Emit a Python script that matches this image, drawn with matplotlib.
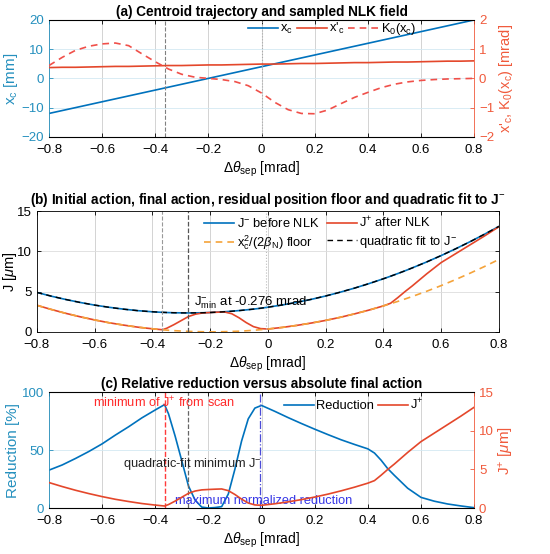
import numpy as np
import matplotlib
matplotlib.use('Agg')
import matplotlib.pyplot as plt

plt.rcParams['font.family'] = ['Liberation Sans', 'DejaVu Sans']
plt.rcParams['mathtext.fontset'] = 'custom'
plt.rcParams['mathtext.rm'] = 'Liberation Sans'
plt.rcParams['mathtext.it'] = 'Liberation Sans:italic'
plt.rcParams['mathtext.bf'] = 'Liberation Sans:bold'

# panel (a) data: centroid and sampled kicker field
theta_a = [-0.8, -0.75, -0.7, -0.65, -0.6, -0.55, -0.5, -0.45, -0.4, -0.35, -0.3,
           -0.25, -0.2, -0.15, -0.1, -0.05, 0.0, 0.05, 0.1, 0.15, 0.2, 0.25, 0.3,
           0.35, 0.4, 0.45, 0.5, 0.55, 0.6, 0.65, 0.7, 0.75, 0.8]
x_c = [-12, -11, -10, -9, -8, -7, -6, -5, -4, -3, -2, -1, 0, 1, 2, 3, 4, 5, 6,
       7, 8, 9, 10, 11, 12, 13, 14, 15, 16, 17, 18, 19, 20]
xp_c = [0.37, 0.38, 0.38, 0.39, 0.40, 0.41, 0.41, 0.42, 0.43, 0.44, 0.44, 0.45,
        0.46, 0.46, 0.47, 0.48, 0.49, 0.49, 0.50, 0.51, 0.51, 0.52, 0.53, 0.54,
        0.54, 0.55, 0.56, 0.56, 0.57, 0.58, 0.59, 0.59, 0.60]
K0 = [0.44, 0.72, 0.96, 1.10, 1.18, 1.21, 1.12, 0.84, 0.57, 0.32, 0.14, 0.04,
      0.00, -0.04, -0.11, -0.25, -0.50, -0.82, -1.07, -1.20, -1.21, -1.08, -0.86,
      -0.65, -0.48, -0.32, -0.20, -0.12, -0.07, -0.04, -0.02, -0.01, 0.00]

# panels (b) and (c) data: actions and reduction
theta = [-0.8, -0.75, -0.7, -0.65, -0.6, -0.55, -0.5, -0.45, -0.4, -0.365, -0.35,
         -0.325, -0.3, -0.275, -0.25, -0.225, -0.2, -0.175, -0.15, -0.125, -0.1,
         -0.075, -0.05, -0.025, 0.0, 0.05, 0.1, 0.15, 0.2, 0.25, 0.3, 0.35, 0.4,
         0.425, 0.45, 0.475, 0.5, 0.55, 0.6, 0.65, 0.7, 0.75, 0.8]
J_minus = [4.90, 4.43, 4.02, 3.65, 3.32, 3.05, 2.82, 2.63, 2.49, 2.42, 2.40, 2.37,
           2.36, 2.35, 2.36, 2.37, 2.40, 2.45, 2.50, 2.56, 2.64, 2.73, 2.82, 2.93,
           3.06, 3.34, 3.66, 4.03, 4.45, 4.92, 5.43, 5.99, 6.59, 6.91, 7.24, 7.58,
           7.94, 8.68, 9.47, 10.31, 11.19, 12.12, 13.09]
J_plus = [3.30, 2.78, 2.30, 1.87, 1.48, 1.13, 0.84, 0.58, 0.38, 0.26, 0.45, 0.90,
          1.40, 1.90, 2.20, 2.35, 2.40, 2.44, 2.47, 2.25, 1.75, 1.15, 0.65, 0.40,
          0.35, 0.55, 0.80, 1.09, 1.42, 1.80, 2.23, 2.70, 3.22, 3.55, 4.25, 5.00,
          5.70, 7.20, 8.60, 9.70, 10.80, 11.90, 13.05]
J_floor = [3.30, 2.78, 2.30, 1.87, 1.48, 1.13, 0.84, 0.58, 0.38, 0.26, 0.21, 0.15,
           0.10, 0.06, 0.03, 0.01, 0.00, 0.00, 0.02, 0.05, 0.08, 0.13, 0.19, 0.27,
           0.35, 0.55, 0.80, 1.09, 1.42, 1.80, 2.23, 2.70, 3.22, 3.50, 3.78, 4.08,
           4.39, 5.04, 5.74, 6.49, 7.28, 8.11, 8.99]
reduction = [32.7, 37.2, 42.8, 48.8, 55.4, 63.0, 70.2, 77.9, 84.7, 89.3, 81.3, 62.0,
             40.7, 19.1, 6.8, 0.8, 0.0, 0.4, 1.2, 12.1, 33.7, 57.9, 77.0, 86.3,
             88.6, 83.5, 78.1, 73.0, 68.1, 63.4, 58.9, 54.9, 51.1, 47.5, 41.3, 34.0,
             28.2, 17.1, 9.2, 5.9, 3.5, 1.8, 0.3]

theta_jplus_min = -0.365
theta_fit_min = -0.276
theta_red_max = -0.005

blue = '#0072BD'
blue_ax = '#2590BE'
red = '#E4472B'
red_k = '#F0504A'
red_ax = '#F05A3C'
yellow = '#F5A33A'
xticks = [-0.8, -0.6, -0.4, -0.2, 0, 0.2, 0.4, 0.6, 0.8]
xlab = r'$\Delta\theta_{\rm sep}$ [mrad]'
fs = 9.5
tfs = 9.8
lfs = 9.3


def style(ax):
    ax.set_xlim(-0.8, 0.8)
    ax.set_xticks(xticks)
    ax.set_xticklabels(['\u22120.8', '\u22120.6', '\u22120.4', '\u22120.2', '0',
                        '0.2', '0.4', '0.6', '0.8'])
    ax.tick_params(direction='in', length=3, width=0.6, labelsize=fs, top=True)
    ax.tick_params(axis='x', pad=5)
    for s in ax.spines.values():
        s.set_linewidth(0.6)
    ax.xaxis.grid(True, color='#cccccc', lw=0.6)
    ax.set_axisbelow(True)
    ax.set_xlabel(xlab, fontsize=fs + 0.5, labelpad=3)


fig = plt.figure(figsize=(5.5, 5.54), dpi=100)

# (a)
ax = fig.add_axes([0.089, 0.753, 0.773, 0.211])
style(ax)
ax.yaxis.grid(True, color='#d3e9f3', lw=0.6)
axr = ax.twinx()
la, = ax.plot(theta_a, x_c, color=blue, lw=1.2, label=r'x$_\mathrm{c}$')
lb, = axr.plot(theta_a, xp_c, color=red, lw=1.2, label=r"x'$_\mathrm{c}$")
lc, = axr.plot(theta_a, K0, color=red_k, lw=1.2, ls='--', dashes=(4, 3),
               label=r'K$_0$(x$_\mathrm{c}$)')
ax.axvline(theta_jplus_min, color='#808080', ls='--', lw=0.8)
ax.axvline(0, color='#aaaaaa', ls=':', lw=0.8)
ax.set_ylim(-20, 20)
ax.set_yticks([-20, -10, 0, 10, 20])
axr.set_ylim(-2, 2)
axr.set_yticks([-2, -1, 0, 1, 2])
ax.tick_params(axis='y', colors=blue_ax, right=False)
axr.tick_params(axis='y', colors=red_ax, direction='in', length=3, width=0.6, labelsize=fs)
ax.spines['left'].set_color(blue_ax)
ax.spines['right'].set_visible(False)
axr.spines['left'].set_visible(False)
axr.spines['right'].set_color(red_ax)
axr.spines['right'].set_linewidth(0.6)
ax.set_ylabel(r'x$_\mathrm{c}$ [mm]', color=blue_ax, fontsize=fs + 1.5, labelpad=1)
axr.set_ylabel(r"x'$_\mathrm{c}$, K$_0$(x$_\mathrm{c}$) [mrad]", color=red_ax,
               fontsize=fs + 1, labelpad=2)
ax.set_title('(a) Centroid trajectory and sampled NLK field', fontweight='bold',
             fontsize=tfs, pad=3)
axr.legend(handles=[la, lb, lc], loc='upper left', bbox_to_anchor=(0.465, 1.0),
           ncol=3, frameon=False, fontsize=lfs, handlelength=2.3, handletextpad=0.2,
           columnspacing=0.3, borderpad=0.1, borderaxespad=0)

# (b)
ax = fig.add_axes([0.067, 0.401, 0.840, 0.218])
style(ax)
ax.yaxis.grid(True, color='#dddddd', lw=0.6)
ax.tick_params(right=True)
coef = np.polyfit(theta, J_minus, 2)
J_fit = np.polyval(coef, theta)
h1, = ax.plot(theta, J_minus, color=blue, lw=1.2, label=r'J$^{-}$ before NLK')
h2, = ax.plot(theta, J_plus, color=red, lw=1.2, label=r'J$^{+}$ after NLK')
h3, = ax.plot(theta, J_floor, color=yellow, lw=1.2, ls='--', dashes=(4, 3),
              label=r'$\mathrm{x}_\mathrm{c}^2/(2\beta_\mathrm{N})$ floor')
h4, = ax.plot(theta, J_fit, color='black', lw=1.0, ls='--', dashes=(4, 3),
              label=r'quadratic fit to J$^{-}$')
ax.axvline(theta_jplus_min, color='#999999', ls='--', lw=0.8)
ax.axvline(theta_fit_min, color='#555555', ls='--', lw=0.9)
ax.axvline(-0.005, color='#bbbbbb', ls=':', lw=0.8)
ax.text(-0.255, 3.25, r'J$^{-}_{\rm min}$ at -0.276 mrad', fontsize=fs, va='baseline')
ax.set_ylim(0, 15)
ax.set_yticks([0, 5, 10, 15])
ax.set_ylabel(r'J [$\mu$m]', fontsize=fs + 1, labelpad=-1)
ax.set_title('(b) Initial action, final action, residual position floor and '
             r'quadratic fit to J$^{-}$', fontweight='bold', fontsize=tfs, pad=5)
ax.legend(handles=[h1, h3, h2, h4], loc='upper left', bbox_to_anchor=(0.36, 0.975),
          ncol=2, frameon=False, fontsize=lfs, handlelength=2.3, handletextpad=0.2,
          columnspacing=0.6, borderpad=0.1, borderaxespad=0, labelspacing=0.25)

# (c)
ax = fig.add_axes([0.089, 0.083, 0.773, 0.209])
style(ax)
ax.yaxis.grid(True, color='#d3e9f3', lw=0.6)
axr = ax.twinx()
r1, = ax.plot(theta, reduction, color=blue, lw=1.2, label='Reduction')
r2, = axr.plot(theta, J_plus, color=red, lw=1.2, label=r'J$^{+}$')
ax.axvline(theta_jplus_min, color='#FF3B3B', ls='--', lw=1.0)
ax.axvline(theta_fit_min, color='#666666', ls='--', lw=0.9)
ax.axvline(theta_red_max, color='#4B4BD8', ls='-.', lw=0.9)
ax.text(theta_jplus_min, 91, r'minimum of J$^{+}$ from scan', color='#FF2A2A',
        fontsize=fs - 0.3, ha='center', va='center')
ax.text(-0.26, 38, r'quadratic-fit minimum J$^{-}$', color='#222222',
        fontsize=fs - 0.3, ha='center', va='center')
ax.text(0.008, 6, 'maximum normalized reduction', color='#3535E6',
        fontsize=fs - 0.3, ha='center', va='center')
ax.set_ylim(0, 100)
ax.set_yticks([0, 50, 100])
axr.set_ylim(0, 15)
axr.set_yticks([0, 5, 10, 15])
ax.tick_params(axis='y', colors=blue_ax, right=False)
axr.tick_params(axis='y', colors=red_ax, direction='in', length=3, width=0.6, labelsize=fs)
ax.spines['left'].set_color(blue_ax)
ax.spines['right'].set_visible(False)
axr.spines['left'].set_visible(False)
axr.spines['right'].set_color(red_ax)
axr.spines['right'].set_linewidth(0.6)
ax.set_ylabel('Reduction [%]', color=blue_ax, fontsize=fs + 1.5, labelpad=1)
axr.set_ylabel(r'J$^{+}$ [$\mu$m]', color=red_ax, fontsize=fs + 1.5, labelpad=2)
ax.set_title('(c) Relative reduction versus absolute final action', fontweight='bold',
             fontsize=tfs, pad=3)
axr.legend(handles=[r1, r2], loc='upper left', bbox_to_anchor=(0.55, 0.97),
           ncol=2, frameon=False, fontsize=lfs, handlelength=2.3, handletextpad=0.2,
           columnspacing=0.3, borderpad=0.1, borderaxespad=0)

fig.savefig('out.png', dpi=100)
